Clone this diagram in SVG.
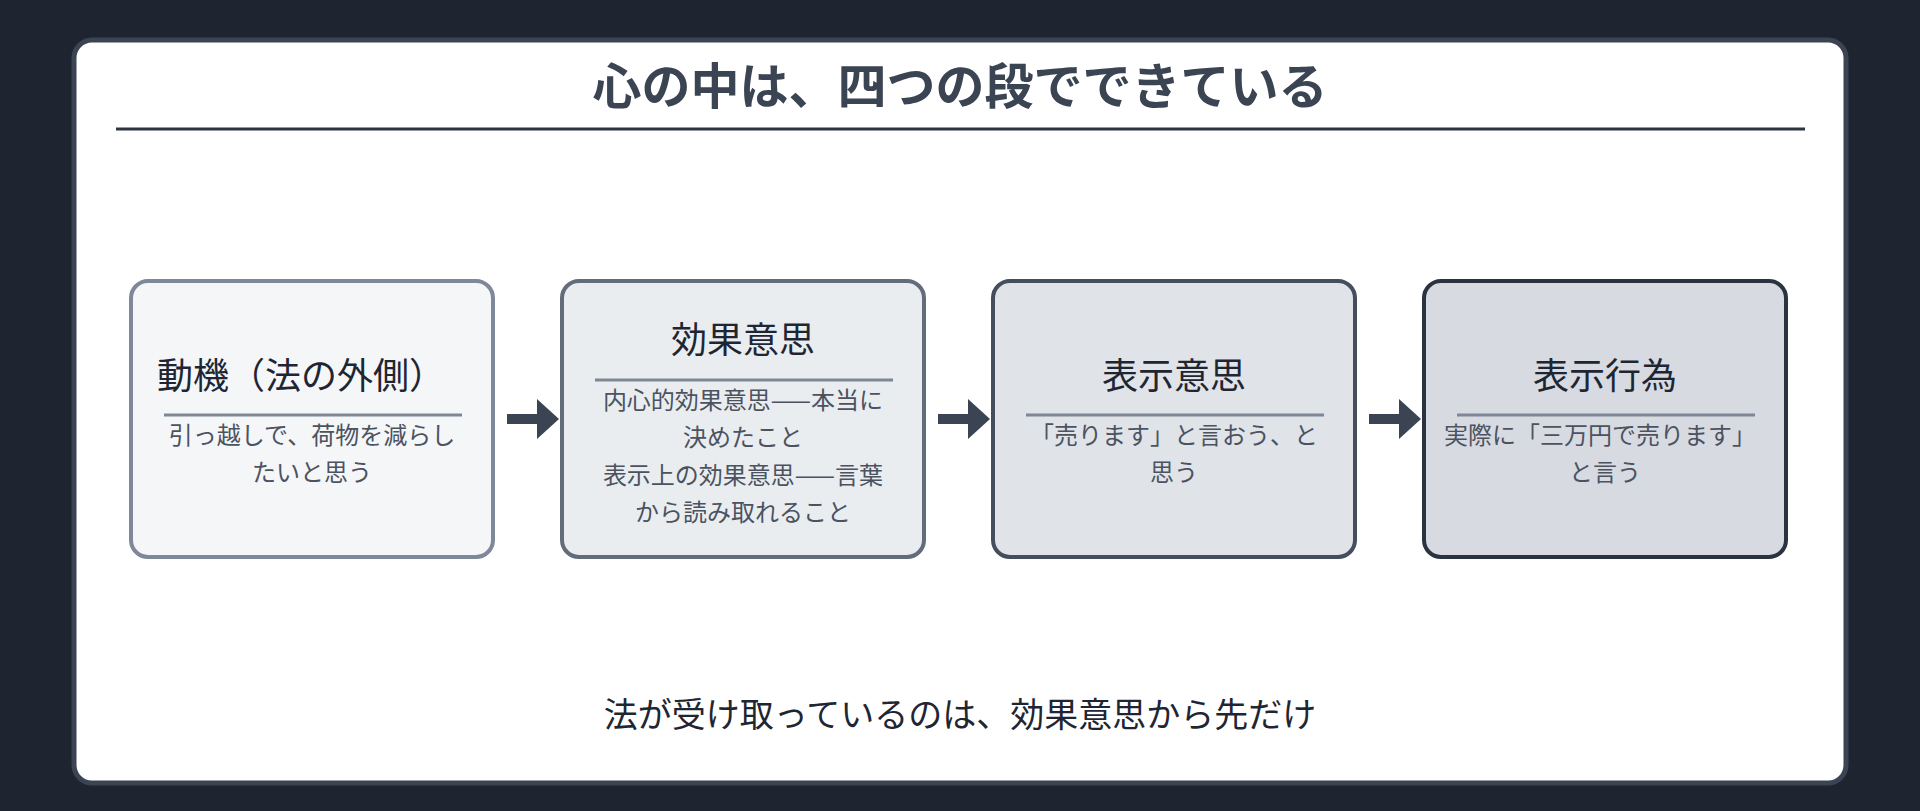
<svg xmlns="http://www.w3.org/2000/svg" width="1920" height="811" viewBox="0 0 1920 811">
<style>
text{font-family:"Noto Sans CJK JP","Noto Sans",sans-serif;text-anchor:middle}
.t{font-size:36px;fill:#1f2633}
.d{font-size:24px;fill:#4b5361}
.r{stroke:#7f8796;stroke-width:3}
</style>
<defs><path id="arr" d="M0,-5 H30 V-20 L52,0 L30,20 V5 H0 Z" fill="#3b4452"/></defs>
<rect width="1920" height="811" fill="#1e2530"/>
<rect x="74" y="40" width="1772" height="743" rx="18" fill="#ffffff" stroke="#3b4452" stroke-width="5"/>
<text x="960" y="104" style="font-size:49px;font-weight:bold;fill:#3b4452">心の中は、四つの段でできている</text>
<line x1="116" y1="129" x2="1805" y2="129" stroke="#2d3440" stroke-width="3"/>
<g id="connectors">
<use href="#arr" x="507" y="419"/>
<use href="#arr" x="938" y="419"/>
<use href="#arr" x="1369" y="419"/>
</g>
<g id="n1">
<rect x="131" y="281" width="362" height="276" rx="17" fill="#f5f6f8" stroke="#7f8899" stroke-width="4"/>
<text class="t" x="301" y="389">動機（法の外側）</text>
<line class="r" x1="164" y1="415" x2="462" y2="415"/>
<text class="d" x="312" y="444">引っ越しで、荷物を減らし</text>
<text class="d" x="312" y="481">たいと思う</text>
</g>
<g id="n2">
<rect x="562" y="281" width="362" height="276" rx="17" fill="#eaedf0" stroke="#636c7b" stroke-width="4"/>
<text class="t" x="743" y="353">効果意思</text>
<line class="r" x1="595" y1="380" x2="893" y2="380"/>
<text class="d" x="743" y="409">内心的効果意思——本当に</text>
<text class="d" x="743" y="446">決めたこと</text>
<text class="d" x="743" y="484">表示上の効果意思——言葉</text>
<text class="d" x="743" y="521">から読み取れること</text>
</g>
<g id="n3">
<rect x="993" y="281" width="362" height="276" rx="17" fill="#e0e3e8" stroke="#454e5d" stroke-width="4"/>
<text class="t" x="1174" y="389">表示意思</text>
<line class="r" x1="1026" y1="415" x2="1324" y2="415"/>
<text class="d" x="1174" y="444">「売ります」と言おう、と</text>
<text class="d" x="1174" y="481">思う</text>
</g>
<g id="n4">
<rect x="1424" y="281" width="362" height="276" rx="17" fill="#d7dae1" stroke="#2b3341" stroke-width="4"/>
<text class="t" x="1605" y="389">表示行為</text>
<line class="r" x1="1457" y1="415" x2="1755" y2="415"/>
<text class="d" x="1600" y="444">実際に「三万円で売ります」</text>
<text class="d" x="1605" y="481">と言う</text>
</g>
<text x="960" y="727" style="font-size:34px;fill:#1f2633">法が受け取っているのは、効果意思から先だけ</text>
</svg>
